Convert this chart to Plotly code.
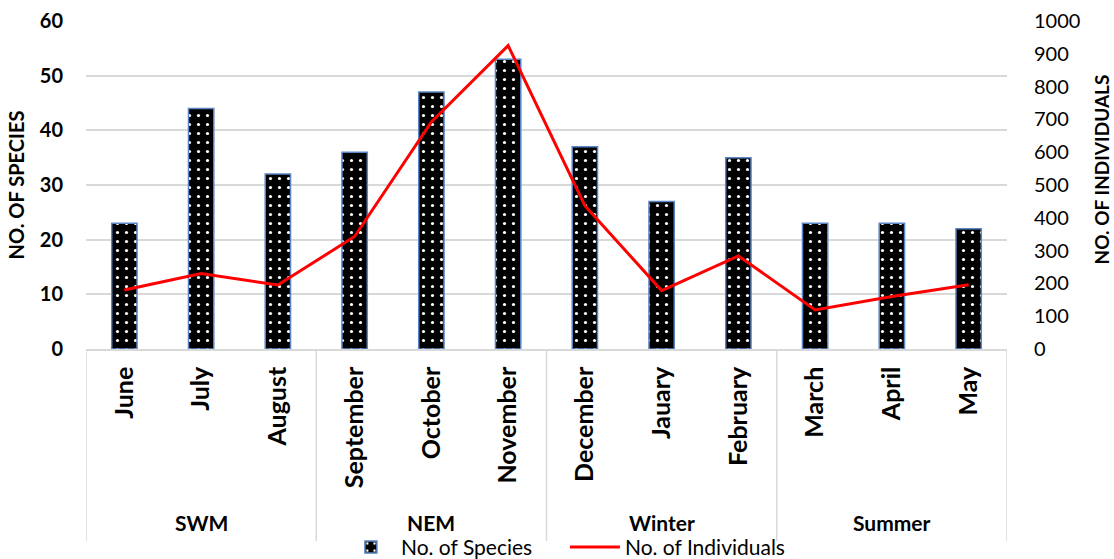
import plotly.graph_objects as go

# Monthly survey data
months = ["June", "July", "August", "September", "October", "November",
          "December", "Jauary", "February", "March", "April", "May"]
seasons = ["SWM", "NEM", "Winter", "Summer"]
species = [23, 44, 32, 36, 47, 53, 37, 27, 35, 23, 23, 22]
individuals = [180, 230, 195, 343, 692, 925, 437, 178, 284, 119, 160, 196]

FONT = "Lato"
GRID = "#d9d9d9"

fig = go.Figure()

fig.add_trace(go.Bar(
    x=months, y=species, name="No. of Species",
    width=0.33,
    marker=dict(
        color="black",
        line=dict(color="#5b86c5", width=1.5),
        pattern=dict(shape=".", fgcolor="white", bgcolor="black",
                     fgopacity=1, size=9, solidity=0.1, fillmode="overlay"),
    ),
))

fig.add_trace(go.Scatter(
    x=months, y=individuals, name="No. of Individuals",
    yaxis="y2", mode="lines",
    line=dict(color="#ff0000", width=3),
))

# season group labels and dividers below the month labels
for i, s in enumerate(seasons):
    fig.add_annotation(x=3 * i + 1, xref="x", y=-0.53, yref="paper",
                       text="<b>%s</b>" % s, showarrow=False,
                       font=dict(family=FONT, size=21, color="black"),
                       yanchor="middle")
for b in range(0, 13, 3):
    fig.add_shape(type="line", xref="x", yref="paper",
                  x0=b - 0.5, x1=b - 0.5, y0=0, y1=-0.585,
                  line=dict(color=GRID, width=1.5))

# right-hand axis title
fig.add_annotation(x=(1100.5 - 86) / 921, xref="paper",
                   y=(349 - 170) / 328, yref="paper",
                   xanchor="center", yanchor="middle",
                   text="<b>NO. OF INDIVIDUALS</b>", textangle=-90,
                   showarrow=False,
                   font=dict(family=FONT, size=19, color="black"))

fig.update_layout(
    width=1114, height=559,
    margin=dict(l=86, r=107, t=21, b=210, autoexpand=False),
    paper_bgcolor="white", plot_bgcolor="white",
    font=dict(family=FONT, color="black"),
    bargap=0.67,
    showlegend=True,
    legend=dict(orientation="h", x=0.52, xanchor="center",
                y=-0.605, yanchor="middle",
                font=dict(family=FONT, size=21, color="black"),
                itemwidth=50, entrywidth=159, tracegroupgap=0,
                bgcolor="rgba(0,0,0,0)"),
    xaxis=dict(
        type="category", range=[-0.5, 11.5],
        tickangle=-90, showgrid=False,
        showline=True, linecolor=GRID, linewidth=1.5,
        ticks="", ticklabelstandoff=6,
        tickfont=dict(family=FONT, size=25, color="black", weight="bold"),
    ),
    yaxis=dict(
        range=[0, 60], dtick=10,
        showgrid=True, gridcolor=GRID, gridwidth=1.5,
        zeroline=False, showline=False,
        tickfont=dict(family=FONT, size=20, color="black", weight="bold"),
        ticklabelstandoff=22,
        title=dict(text="<b>NO. OF SPECIES</b>", standoff=9,
                   font=dict(family=FONT, size=20, color="black")),
    ),
    yaxis2=dict(
        range=[0, 1000], dtick=100, overlaying="y", side="right",
        showgrid=False, zeroline=False, showline=False,
        tickfont=dict(family=FONT, size=20, color="black"),
        ticklabelstandoff=26,
    ),
)

fig.write_html("out.html")
